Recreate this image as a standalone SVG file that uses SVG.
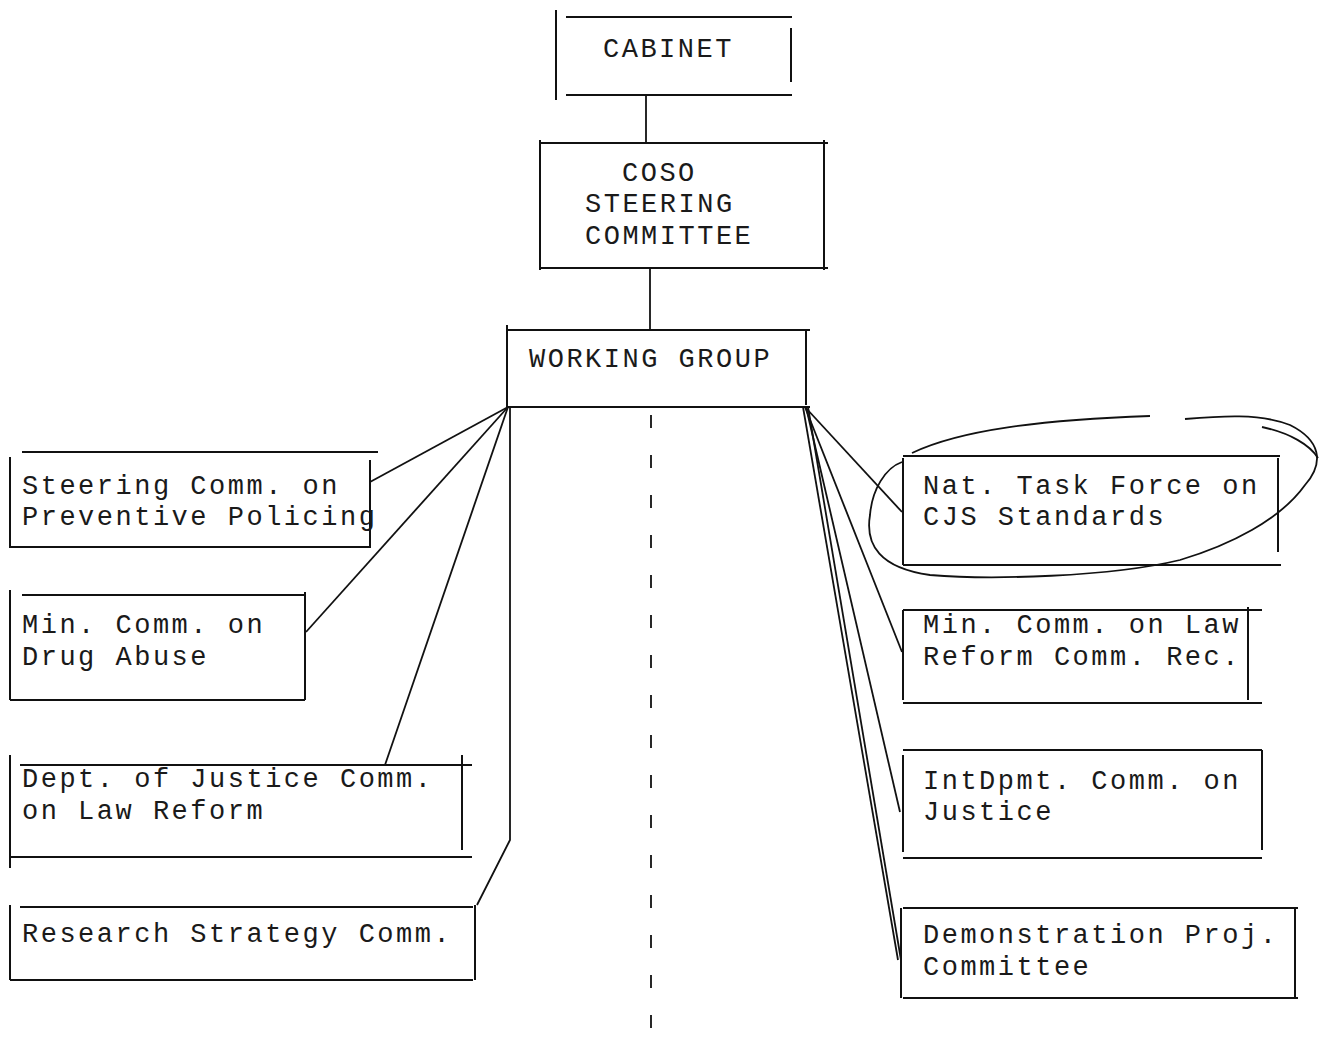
<svg xmlns="http://www.w3.org/2000/svg" width="1321" height="1053" viewBox="0 0 1321 1053">
<style>
.b line{stroke:#111;stroke-width:2;fill:none}
.c line,.c path,.c polyline{stroke:#111;stroke-width:1.8;fill:none}
text{font-family:"Liberation Mono","Courier New",monospace;font-size:27px;fill:#1a1a1a;letter-spacing:2.5px}
</style>
<rect width="1321" height="1053" fill="#fff"/>
<g id="cabinet" class="b">
<line x1="556" y1="10" x2="556" y2="100"/><line x1="566" y1="17" x2="792" y2="17"/><line x1="791" y1="28" x2="791" y2="82"/><line x1="566" y1="95" x2="792" y2="95"/>
<text x="603" y="57">CABINET</text>
</g>
<g id="coso" class="b">
<line x1="540" y1="143" x2="828" y2="143"/><line x1="540" y1="140" x2="540" y2="270"/><line x1="824" y1="140" x2="824" y2="270"/><line x1="540" y1="268" x2="828" y2="268"/>
<text x="622" y="181">COSO</text><text x="585" y="212">STEERING</text><text x="585" y="244">COMMITTEE</text>
</g>
<g id="working-group" class="b">
<line x1="506" y1="330" x2="810" y2="330"/><line x1="507" y1="325" x2="507" y2="408"/><line x1="806" y1="330" x2="806" y2="405"/><line x1="507" y1="407" x2="810" y2="407"/>
<text x="529" y="367">WORKING GROUP</text>
</g>
<g id="steering-comm" class="b">
<line x1="22" y1="452" x2="378" y2="452"/><line x1="10" y1="457" x2="10" y2="548"/><line x1="370" y1="460" x2="370" y2="548"/><line x1="10" y1="547" x2="370" y2="547"/>
<text x="22" y="494">Steering Comm. on</text><text x="22" y="525">Preventive Policing</text>
</g>
<g id="min-comm-drug" class="b">
<line x1="22" y1="595" x2="305" y2="595"/><line x1="10" y1="590" x2="10" y2="700"/><line x1="305" y1="592" x2="305" y2="700"/><line x1="10" y1="700" x2="305" y2="700"/>
<text x="22" y="633">Min. Comm. on</text><text x="22" y="665">Drug Abuse</text>
</g>
<g id="dept-justice" class="b">
<line x1="20" y1="765" x2="472" y2="765"/><line x1="10" y1="755" x2="10" y2="868"/><line x1="462" y1="755" x2="462" y2="850"/><line x1="10" y1="857" x2="472" y2="857"/>
<text x="22" y="787">Dept. of Justice Comm.</text><text x="22" y="819">on Law Reform</text>
</g>
<g id="research-strategy" class="b">
<line x1="20" y1="907" x2="473" y2="907"/><line x1="10" y1="905" x2="10" y2="980"/><line x1="475" y1="905" x2="475" y2="980"/><line x1="10" y1="980" x2="473" y2="980"/>
<text x="22" y="942">Research Strategy Comm.</text>
</g>
<g id="nat-task-force" class="b">
<line x1="903" y1="456" x2="1280" y2="456"/><line x1="903" y1="458" x2="903" y2="565"/><line x1="1278" y1="458" x2="1278" y2="552"/><line x1="903" y1="565" x2="1281" y2="565"/>
<text x="923" y="494">Nat. Task Force on</text><text x="923" y="525">CJS Standards</text>
</g>
<g id="min-comm-law" class="b">
<line x1="903" y1="610" x2="1262" y2="610"/><line x1="903" y1="610" x2="903" y2="700"/><line x1="1248" y1="607" x2="1248" y2="700"/><line x1="903" y1="703" x2="1262" y2="703"/>
<text x="923" y="633">Min. Comm. on Law</text><text x="923" y="665">Reform Comm. Rec.</text>
</g>
<g id="intdpmt" class="b">
<line x1="903" y1="750" x2="1262" y2="750"/><line x1="903" y1="755" x2="903" y2="852"/><line x1="1262" y1="750" x2="1262" y2="850"/><line x1="903" y1="858" x2="1262" y2="858"/>
<text x="923" y="789">IntDpmt. Comm. on</text><text x="923" y="820">Justice</text>
</g>
<g id="demonstration" class="b">
<line x1="903" y1="908" x2="1298" y2="908"/><line x1="901" y1="908" x2="901" y2="998"/><line x1="1295" y1="908" x2="1295" y2="998"/><line x1="903" y1="998" x2="1298" y2="998"/>
<text x="923" y="943">Demonstration Proj.</text><text x="923" y="975">Committee</text>
</g>
<g id="connectors" class="c">
<line x1="646" y1="95" x2="646" y2="143"/>
<line x1="650" y1="268" x2="650" y2="330"/>
<line x1="651" y1="415" x2="651" y2="1045" stroke-dasharray="13 27"/>
<line x1="508" y1="407" x2="370" y2="482"/>
<line x1="508" y1="407" x2="306" y2="632"/>
<line x1="508" y1="407" x2="385" y2="765"/>
<polyline points="510,407 510,840 477,905"/>
<line x1="805" y1="407" x2="902" y2="512"/>
<line x1="805" y1="407" x2="902" y2="652"/>
<line x1="806" y1="407" x2="900" y2="812"/>
<line x1="803" y1="407" x2="898" y2="960" stroke-width="2.4"/>
<line x1="808" y1="407" x2="901" y2="960"/>
<path d="M912,453 C960,430 1040,420 1150,416 M1185,419 C1220,416 1260,413 1290,425 C1320,440 1325,462 1305,485 C1280,520 1230,545 1180,560 C1110,577 990,580 930,575 C880,568 865,545 870,515 C872,490 885,468 902,462" stroke-width="1.3"/>
<path d="M1262,427 C1290,433 1310,445 1318,458" stroke-width="1.2"/>
</g>
</svg>
